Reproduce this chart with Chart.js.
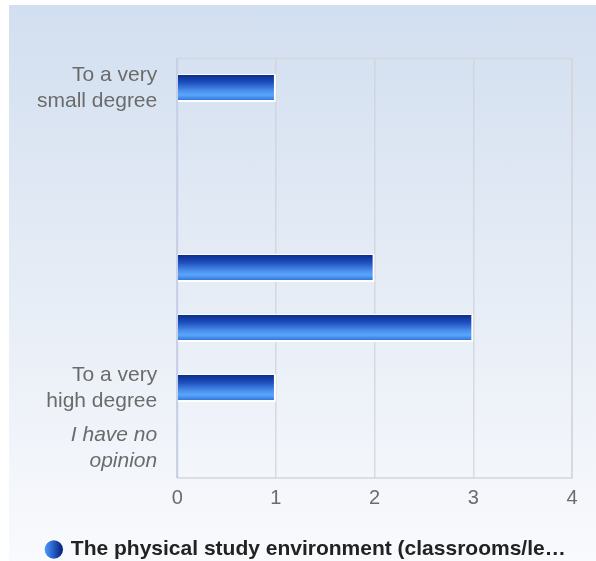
<!DOCTYPE html>
<html>
<head>
<meta charset="utf-8">
<script src="https://cdn.jsdelivr.net/npm/chart.js@4/dist/chart.umd.min.js"></script>
<style>
  html, body { margin: 0; padding: 0; background: #ffffff; }
  #frame {
    position: absolute; left: 9px; top: 5px; width: 587px; height: 556px;
    background: linear-gradient(to bottom, #d2dff0 0%, #e4ebf5 45%, #f9fafd 100%);
  }
  canvas { display: block; }
</style>
</head>
<body>
<div id="frame"><canvas id="c" width="587" height="556"></canvas></div>
<script>
const categories = [
  ["To a very", "small degree"],
  "",
  "",
  "",
  "",
  ["To a very", "high degree"],
  ["I have no", "opinion"]
];
const seriesName = "The physical study environment (classrooms/le\u2026";
const seriesValues = [1, 0, 0, 2, 3, 1, 0];
const xTicks = [0, 1, 2, 3, 4];

const FONT = "'Liberation Sans', Arial, sans-serif";

function barGradient(context) {
  const chart = context.chart;
  const y = chart.scales && chart.scales.y;
  if (!y || context.dataIndex === undefined) return '#2f6fd6';
  const yc = y.getPixelForValue(context.dataIndex);
  const h = 14;
  const g = chart.ctx.createLinearGradient(0, yc - h, 0, yc + h);
  g.addColorStop(0, '#0a2886');
  g.addColorStop(0.3, '#1d4fbd');
  g.addColorStop(0.6, '#4a8fee');
  g.addColorStop(0.75, '#5aa6fb');
  g.addColorStop(1, '#2264cf');
  return g;
}

const plotBorder = {
  id: 'plotBorder',
  afterLayout(chart) {
    if (chart.legend) { chart.legend.left += 12; chart.legend.right += 12; }
  },
  beforeDatasetsDraw(chart) {
    const { ctx, chartArea: a } = chart;
    ctx.save();
    ctx.lineWidth = 1.5;
    ctx.strokeStyle = '#d3d6dc';
    ctx.beginPath();
    ctx.moveTo(a.left, a.top + 0.5);
    ctx.lineTo(a.right, a.top + 0.5);
    ctx.lineTo(a.right, a.bottom);
    ctx.lineTo(a.left, a.bottom);
    ctx.stroke();
    ctx.strokeStyle = '#c6d0e6';
    ctx.lineWidth = 2;
    ctx.beginPath();
    ctx.moveTo(a.left, a.top);
    ctx.lineTo(a.left, a.bottom);
    ctx.stroke();
    ctx.restore();
  }
};

new Chart(document.getElementById('c'), {
  type: 'bar',
  data: {
    labels: categories,
    datasets: [{
      label: seriesName,
      data: seriesValues,
      backgroundColor: barGradient,
      borderColor: 'rgba(255,255,255,0.95)',
      borderWidth: { top: 1, right: 2, bottom: 2, left: 0 },
      borderSkipped: false,
      barPercentage: 0.94,
      categoryPercentage: 0.5
    }]
  },
  options: {
    indexAxis: 'y',
    responsive: false,
    animation: false,
    devicePixelRatio: 1,
    layout: { padding: { top: 53, right: 24, left: 8, bottom: 0 } },
    scales: {
      x: {
        min: 0, max: 4,
        afterBuildTicks(scale) { scale.ticks = xTicks.map(v => ({ value: v })); },
        afterFit(scale) { scale.height += 21; },
        grid: { color: 'rgba(205,208,214,0.7)', lineWidth: 1.5, drawTicks: false },
        border: { display: false },
        ticks: { color: '#6b6b6b', font: { family: FONT, size: 20 }, padding: 8 }
      },
      y: {
        grid: { display: false, drawTicks: false },
        border: { display: false },
        ticks: {
          color: '#6b6b6b',
          padding: 20,
          font: (ctx) => ({ family: FONT, size: 21, lineHeight: 1.25, style: ctx.index === 6 ? 'italic' : 'normal' })
        }
      }
    },
    plugins: {
      legend: {
        position: 'bottom',
        maxHeight: 22,
        labels: {
          usePointStyle: true,
          pointStyle: 'circle',
          boxWidth: 13,
          boxHeight: 13,
          padding: 0,
          color: '#222222',
          font: { family: FONT, size: 21, weight: 'bold' },
          generateLabels(chart) {
            const g = chart.ctx.createLinearGradient(34, 0, 52, 0);
            g.addColorStop(0, '#5aa6fb');
            g.addColorStop(0.45, '#2f6fd6');
            g.addColorStop(1, '#0a2886');
            return [{
              text: seriesName,
              fillStyle: g,
              strokeStyle: g,
              lineWidth: 0,
              pointStyle: 'circle',
              datasetIndex: 0,
              hidden: false,
              fontColor: '#222222'
            }];
          }
        }
      },
      tooltip: { enabled: false }
    }
  },
  plugins: [plotBorder]
});
</script>
</body>
</html>
